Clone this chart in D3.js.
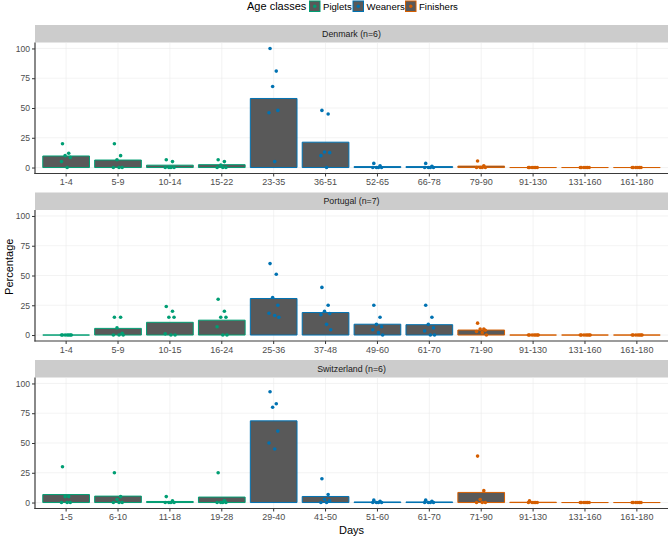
<!DOCTYPE html>
<html><head><meta charset="utf-8">
<script src="https://cdn.jsdelivr.net/npm/d3@7"></script>
<style>body{margin:0;background:#fff;}svg{display:block;font-family:"Liberation Sans",Arial,sans-serif;}</style>
</head><body><svg id="chart" width="669" height="537"></svg>
<script>
// ---- data ----
const countries = ["Denmark (n=6)", "Portugal (n=7)", "Switzerland (n=6)"];
const ageClasses = ["Piglets", "Weaners", "Finishers"];
const binClass = ["Piglets","Piglets","Piglets","Piglets","Weaners","Weaners","Weaners","Weaners","Finishers","Finishers","Finishers","Finishers"];
const yTicks = [0, 25, 50, 75, 100];

const denmarkDays = ["1-4","5-9","10-14","15-22","23-35","36-51","52-65","66-78","79-90","91-130","131-160","161-180"];
const portugalDays = ["1-4","5-9","10-15","16-24","25-36","37-48","49-60","61-70","71-90","91-130","131-160","161-180"];
const switzerlandDays = ["1-5","6-10","11-18","19-28","29-40","41-50","51-60","61-70","71-90","91-130","131-160","161-180"];

const denmarkMeans = [9.7, 6.3, 2.0, 2.4, 58, 21.3, 0.8, 0.8, 1.2, 0, 0, 0];
const portugalMeans = [0, 5.6, 10.7, 12.5, 30.7, 18.9, 9.1, 8.7, 4.2, 0, 0, 0];
const switzerlandMeans = [6.7, 5.4, 0.9, 4.6, 68.6, 5.1, 0.5, 0.5, 8.5, 0.25, 0, 0];

const denmarkPoints = [
  [20, 12, 10, 8.5, 5, 0], [20, 10, 6.5, 0, 0, 0], [6.5, 5, 0, 0, 0, 0], [6.5, 5, 2, 0, 0, 0],
  [100, 81, 68, 48, 46, 5], [48, 45, 13, 12.5, 10, 0], [3.5, 1.5, 0, 0, 0, 0], [3.5, 1, 0, 0, 0, 0],
  [5.5, 1.5, 0, 0, 0, 0], [0, 0, 0, 0, 0, 0], [0, 0, 0, 0, 0, 0], [0, 0, 0, 0, 0, 0]
];
const portugalPoints = [
  [0, 0, 0, 0, 0, 0, 0], [15, 15, 6, 1.5, 0, 0, 0], [24, 20, 15, 15, 1, 0, 0], [30, 20, 15, 15, 7, 0, 0],
  [60, 51, 31.5, 25, 18.3, 16.4, 15], [40, 25, 20, 18, 17, 9, 4.5], [25, 15, 9, 7, 4.5, 2, 0], [25, 15, 9, 6, 3.5, 0, 0],
  [10, 5, 5, 4, 3, 2, 0], [0, 0, 0, 0, 0, 0, 0], [0, 0, 0, 0, 0, 0, 0], [0, 0, 0, 0, 0, 0, 0]
];
const switzerlandPoints = [
  [30, 5, 5, 0, 0, 0], [25, 5, 2.5, 0, 0, 0], [5, 1.4, 0, 0, 0, 0], [25, 1.7, 0, 0, 0, 0],
  [93, 83, 80, 60, 50, 45], [20, 6.7, 2.5, 1.4, 0, 0], [2, 1, 0, 0, 0, 0], [2, 1, 0, 0, 0, 0],
  [39, 10, 2.5, 0, 0, 0], [1.4, 0, 0, 0, 0, 0], [0, 0, 0, 0, 0, 0], [0, 0, 0, 0, 0, 0]
];

const panels = [
  {title: countries[0], days: denmarkDays, means: denmarkMeans, points: denmarkPoints},
  {title: countries[1], days: portugalDays, means: portugalMeans, points: portugalPoints},
  {title: countries[2], days: switzerlandDays, means: switzerlandMeans, points: switzerlandPoints}
];

// ---- layout ----
const svg = d3.select("#chart");
const color = d3.scaleOrdinal().domain(ageClasses).range(["#009E73", "#0072B2", "#D55E00"]);
const left = 35, right = 668;
const panelTops = [25, 192.5, 360];
const stripH = 17.5, plotH = 131;
const jitter = [-0.07, 0.05, -0.02, 0.08, -0.09, 0.02, 0.1];

panels.forEach((p, pi) => {
  const top = panelTops[pi];
  const pTop = top + stripH, pBot = pTop + plotH;
  const x = d3.scaleBand().domain(d3.range(12)).range([left, right]).paddingInner(0.1).paddingOuter(0.15);
  const y = d3.scaleLinear().domain([-5, 105]).range([pBot, pTop]);
  const g = svg.append("g");

  // strip
  g.append("rect").attr("x", left).attr("y", top).attr("width", right - left).attr("height", stripH).attr("fill", "#cccccc");
  g.append("text").attr("x", (left + right) / 2).attr("y", top + stripH / 2 + 3.2).attr("text-anchor", "middle")
    .attr("font-size", 8.8).attr("fill", "#1a1a1a").text(p.title);

  // grid
  g.selectAll(".hg").data(yTicks).join("line")
    .attr("x1", left).attr("x2", right).attr("y1", d => y(d)).attr("y2", d => y(d))
    .attr("stroke", "#ebebeb").attr("stroke-width", 0.6);
  g.selectAll(".vg").data(d3.range(12)).join("line")
    .attr("x1", d => x(d) + x.bandwidth() / 2).attr("x2", d => x(d) + x.bandwidth() / 2)
    .attr("y1", pTop).attr("y2", pBot).attr("stroke", "#ebebeb").attr("stroke-width", 0.6);

  // bars (path so zero-height bars still show outline)
  g.selectAll(".bar").data(p.means).join("path")
    .attr("d", (d, i) => {
      const x0 = x(i), w = x.bandwidth(), y0 = y(0), y1 = y(d);
      return `M${x0},${y0}H${x0 + w}V${y1}H${x0}Z`;
    })
    .attr("fill", "#595959").attr("stroke", (d, i) => color(binClass[i])).attr("stroke-width", 1);

  // points
  p.points.forEach((vals, i) => {
    g.selectAll(null).data(vals).join("circle")
      .attr("cx", (d, k) => x(i) + x.bandwidth() / 2 + jitter[k % jitter.length] * x.step())
      .attr("cy", d => y(d)).attr("r", 1.8).attr("fill", color(binClass[i]));
  });

  // axes
  const yAxis = g.append("g").attr("transform", `translate(${left},0)`)
    .call(d3.axisLeft(y).tickValues(yTicks).tickSize(3).tickPadding(2));
  yAxis.select(".domain").remove();
  yAxis.selectAll(".tick line").attr("stroke", "#333");
  yAxis.selectAll("text").attr("font-size", 8.6).attr("fill", "#4d4d4d").attr("font-family", "Liberation Sans, Arial, sans-serif");

  const xAxis = g.append("g").attr("transform", `translate(0,${pBot})`)
    .call(d3.axisBottom(x).tickFormat(i => p.days[i]).tickSize(3).tickPadding(2.5));
  xAxis.select(".domain").remove();
  xAxis.selectAll(".tick line").attr("stroke", "#333");
  xAxis.selectAll("text").attr("font-size", 9).attr("fill", "#4d4d4d").attr("font-family", "Liberation Sans, Arial, sans-serif");

  g.append("line").attr("x1", left).attr("x2", left).attr("y1", pTop).attr("y2", pBot + 0.6)
    .attr("stroke", "#3a3a3a").attr("stroke-width", 1.2);
  g.append("line").attr("x1", left - 0.6).attr("x2", right).attr("y1", pBot).attr("y2", pBot)
    .attr("stroke", "#3a3a3a").attr("stroke-width", 1.2);
});

// axis titles
svg.append("text").attr("x", (left + right) / 2).attr("y", 534).attr("text-anchor", "middle")
  .attr("font-size", 11).attr("fill", "#000").text("Days");
svg.append("text").attr("transform", `translate(12.5,${(25 + 508.5) / 2}) rotate(-90)`).attr("text-anchor", "middle")
  .attr("font-size", 11).attr("fill", "#000").text("Percentage");

// legend
const leg = svg.append("g");
leg.append("text").attr("x", 247).attr("y", 10).attr("font-size", 11).attr("fill", "#000").text("Age classes");
const legX = [309.5, 353, 405.5];
ageClasses.forEach((c, i) => {
  const lx = legX[i];
  leg.append("rect").attr("x", lx).attr("y", 1).attr("width", 10.5).attr("height", 10.5)
    .attr("fill", "#595959").attr("stroke", color(c)).attr("stroke-width", 1);
  leg.append("circle").attr("cx", lx + 5.25).attr("cy", 6.25).attr("r", 1.7).attr("fill", color(c));
  leg.append("text").attr("x", lx + 13.5).attr("y", 10).attr("font-size", 9.6).attr("fill", "#000").text(c);
});
</script>
</body></html>
